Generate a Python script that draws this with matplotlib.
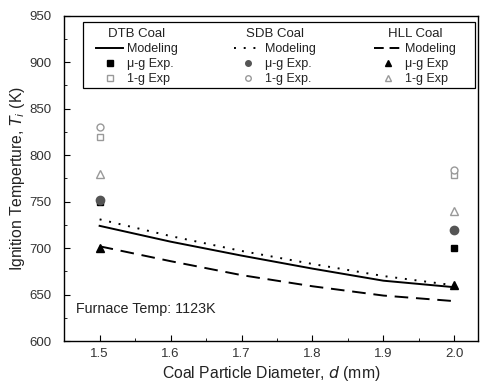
import matplotlib
matplotlib.use("Agg")
import matplotlib.pyplot as plt
from matplotlib.legend import Legend
from matplotlib.lines import Line2D
from matplotlib.patches import Rectangle
from matplotlib.ticker import MultipleLocator

plt.rcParams['font.family'] = ['Liberation Sans', 'DejaVu Sans']

# modeling curves
d_model = [1.5, 1.6, 1.7, 1.8, 1.9, 2.0]
dtb_model = [724, 707, 692, 678, 665, 658]
sdb_model = [731, 713, 697, 683, 670, 660]
hll_model = [702, 686, 671, 659, 649, 643]

# experiments
d_exp = [1.5, 2.0]
dtb_mug = [750, 700]
dtb_1g = [820, 779]
sdb_mug = [752, 720]
sdb_1g = [830, 784]
hll_mug = [700, 660]
hll_1g = [780, 740]

gray = '#999999'
txt = '#222222'

fig = plt.figure(figsize=(4.86, 3.85), dpi=100)
ax = fig.add_axes([0.132, 0.114, 0.851, 0.845])

ax.plot(d_model, dtb_model, color='black', lw=1.4)
ax.plot(d_model, sdb_model, color='black', lw=1.4, ls=(0, (1, 4)))
ax.plot(d_model, hll_model, color='black', lw=1.4, ls=(0, (7, 4)))

ax.plot(d_exp, dtb_1g, ls='none', marker='s', ms=5, mfc='white', mec=gray)
ax.plot(d_exp, sdb_1g, ls='none', marker='o', ms=5, mfc='white', mec=gray)
ax.plot(d_exp, hll_1g, ls='none', marker='^', ms=6, mfc='white', mec=gray)
ax.plot(d_exp, dtb_mug, ls='none', marker='s', ms=5, color='black')
ax.plot(d_exp, sdb_mug, ls='none', marker='o', ms=6, color='#555555')
ax.plot(d_exp, hll_mug, ls='none', marker='^', ms=6, color='black')

ax.set_xlim(1.45, 2.033)
ax.set_ylim(600, 950)
ax.xaxis.set_major_locator(MultipleLocator(0.1))
ax.xaxis.set_minor_locator(MultipleLocator(0.05))
ax.yaxis.set_major_locator(MultipleLocator(50))
ax.yaxis.set_minor_locator(MultipleLocator(25))
ax.xaxis.set_major_formatter(plt.FuncFormatter(lambda v, p: f'{v:.1f}'))
ax.tick_params(which='both', direction='in', labelsize=9.5, colors='black')
ax.tick_params(which='major', length=4)
ax.tick_params(which='minor', length=2)
ax.tick_params(axis='y', pad=9)
ax.tick_params(axis='x', pad=5)
ax.tick_params(axis='both', labelcolor='#333333')
for s in ax.spines.values():
    s.set_linewidth(1.0)

ax.set_xlabel('Coal Particle Diameter, $\\it{d}$ (mm)', fontsize=11.3, color=txt, labelpad=3)
ax.set_ylabel('Ignition Temperture, $\\it{T_i}$ (K)', fontsize=11.3, color=txt, labelpad=1.5)

ax.text(1.467, 635, 'Furnace Temp: 1123K', fontsize=10.3, va='center', color=txt)

# legend: three columns with headers, one common frame
groups = [
    ('DTB Coal', 0.176,
     [Line2D([], [], color='black', lw=1.4),
      Line2D([], [], ls='none', marker='s', ms=4, color='black'),
      Line2D([], [], ls='none', marker='s', ms=4, mfc='white', mec=gray)],
     ['Modeling', '\u03bc-g Exp.', '1-g Exp']),
    ('SDB Coal', 0.51,
     [Line2D([], [], color='black', lw=1.4, ls=(0, (1, 4))),
      Line2D([], [], ls='none', marker='o', ms=4, color='#555555'),
      Line2D([], [], ls='none', marker='o', ms=4, mfc='white', mec=gray)],
     ['Modeling', '\u03bc-g Exp.', '1-g Exp.']),
    ('HLL Coal', 0.848,
     [Line2D([], [], color='black', lw=1.4, ls=(0, (5, 3))),
      Line2D([], [], ls='none', marker='^', ms=4, color='black'),
      Line2D([], [], ls='none', marker='^', ms=4, mfc='white', mec=gray)],
     ['Modeling', '\u03bc-g Exp', '1-g Exp']),
]
for title, cx, hs, ls in groups:
    leg = Legend(ax, hs, ls, loc='upper center', bbox_to_anchor=(cx, 0.992),
                 frameon=False, fontsize=9, title=title, title_fontsize=9.5,
                 handlelength=2.2, handletextpad=0.3, labelspacing=0.25,
                 borderpad=0.3)
    leg._legend_box.sep = 2
    leg.get_title().set_color(txt)
    for t in leg.get_texts():
        t.set_color(txt)
    ax.add_artist(leg)

ax.add_patch(Rectangle((0.046, 0.778), 0.947, 0.204, transform=ax.transAxes,
                       fill=False, lw=0.9, edgecolor='black', zorder=5))

fig.savefig('out.png', dpi=100)
